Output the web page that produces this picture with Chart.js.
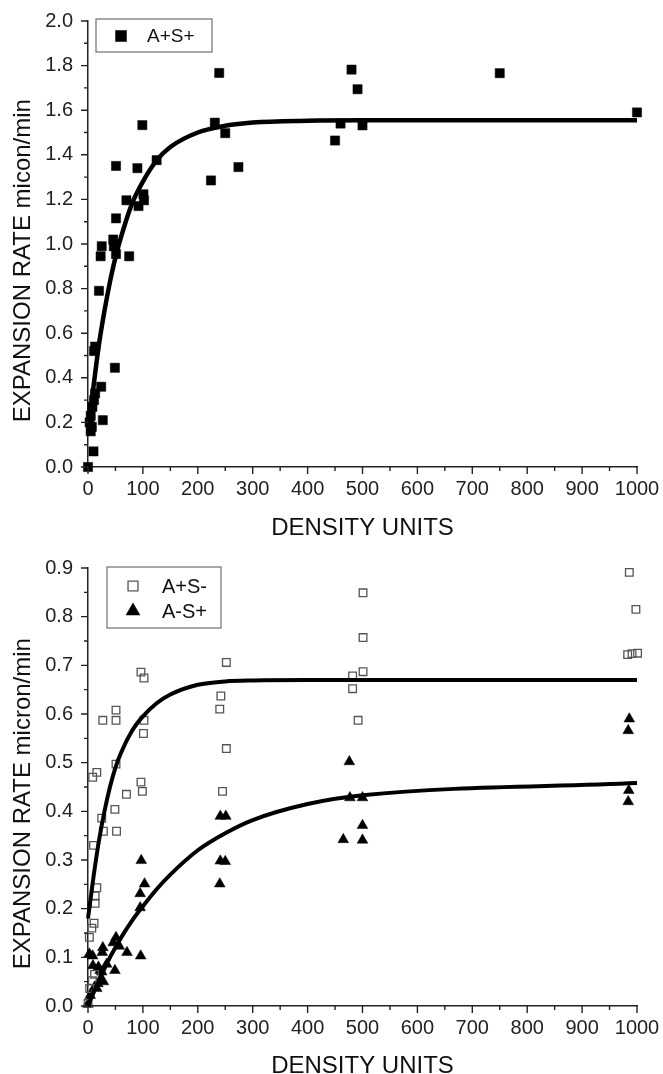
<!DOCTYPE html>
<html>
<head>
<meta charset="utf-8">
<title>Expansion rate vs density</title>
<script src="https://cdn.jsdelivr.net/npm/chart.js@4.4.1/dist/chart.umd.min.js"></script>
<style>
  html, body { margin: 0; padding: 0; background: #fff; }
  .panel { position: absolute; left: 0; width: 663px; }
  #topPanel { top: 0; height: 548px; }
  #bottomPanel { top: 548px; height: 526px; }
</style>
</head>
<body>
<div class="panel" id="topPanel"><canvas id="chartTop"></canvas></div>
<div class="panel" id="bottomPanel"><canvas id="chartBottom"></canvas></div>
<script>
// ---- top panel: A+S+ ----
const aspX = [0, 3, 5, 7, 8, 11, 13, 5, 10, 11, 13, 24, 27, 20, 23, 25,
  46, 47, 51, 51, 51, 49, 75, 70, 90, 92, 99, 101, 102, 125,
  224, 231, 239, 250, 274, 450, 460, 480, 491, 500, 750, 1000];
const aspY = [0.0, 0.2, 0.23, 0.18, 0.27, 0.3, 0.33, 0.16, 0.07, 0.52, 0.54, 0.36, 0.21, 0.79, 0.945, 0.99,
  1.02, 0.99, 0.955, 1.115, 1.35, 0.445, 0.945, 1.196, 1.34, 1.17, 1.533, 1.223, 1.196, 1.376,
  1.285, 1.544, 1.767, 1.497, 1.345, 1.464, 1.54, 1.782, 1.694, 1.532, 1.766, 1.59];

// fitted curve
const fitX = [0, 10, 20, 30, 40, 50, 60, 80, 100, 125, 150, 200, 250, 300, 400, 500, 1000];
const fitTopY = [0.15, 0.36, 0.55, 0.70, 0.83, 0.94, 1.03, 1.18, 1.28, 1.375, 1.435, 1.50, 1.53, 1.545, 1.553, 1.555, 1.555];

// ---- bottom panel: A+S- (open squares) and A-S+ (triangles) ----
const apsmX = [0, 3, 8, 12, 2.5, 7, 11, 13, 13, 16, 10, 25, 28, 52, 49, 70, 8.5, 16, 51,
  27, 51, 51, 96.5, 102, 102, 101, 96.5, 99, 240, 242, 245, 252, 252,
  482, 482, 492, 501, 501, 501, 983, 986, 991, 998, 1001];
const apsmY = [0.005, 0.036, 0.052, 0.065, 0.141, 0.16, 0.17, 0.211, 0.226, 0.243, 0.33, 0.386, 0.359, 0.359, 0.404, 0.435, 0.47, 0.48, 0.497,
  0.587, 0.587, 0.608, 0.686, 0.674, 0.587, 0.56, 0.46, 0.441, 0.61, 0.637, 0.441, 0.706, 0.529,
  0.678, 0.652, 0.587, 0.849, 0.757, 0.687, 0.722, 0.891, 0.724, 0.815, 0.725];

const amspX = [0, 4, 12, 16, 18, 28, 9, 19, 22, 25, 34, 2.5, 8.5, 27, 26, 46, 51, 57, 49, 71,
  96, 95, 95, 103, 97, 240, 241, 250, 241, 251,
  465, 476, 477, 500, 500, 500, 984, 985, 984, 986];
const amspY = [0.004, 0.022, 0.039, 0.036, 0.046, 0.05, 0.083, 0.08, 0.073, 0.07, 0.086, 0.107, 0.103, 0.12, 0.11, 0.13, 0.141, 0.123, 0.073, 0.11,
  0.103, 0.202, 0.231, 0.251, 0.299, 0.251, 0.298, 0.297, 0.39, 0.39,
  0.342, 0.502, 0.428, 0.428, 0.371, 0.341, 0.42, 0.443, 0.566, 0.59];

const fitApsmY = [0.18, 0.265, 0.34, 0.40, 0.45, 0.49, 0.52, 0.565, 0.595, 0.622, 0.64, 0.66, 0.667, 0.669, 0.67, 0.67, 0.67];
const fitAmspY = [0, 0.027, 0.052, 0.077, 0.10, 0.12, 0.14, 0.175, 0.205, 0.24, 0.27, 0.32, 0.355, 0.382, 0.415, 0.433, 0.458];

const FONT = "'Liberation Sans', Arial, Helvetica, sans-serif";
const pts = (xs, ys) => xs.map((x, i) => ({ x: x, y: ys[i] }));

// outward tick marks, long for labelled ticks, short for the rest
const tickMarks = {
  id: 'tickMarks',
  afterDraw(chart) {
    const ctx = chart.ctx;
    const xs = chart.scales.x, ys = chart.scales.y;
    ctx.save();
    ctx.strokeStyle = '#222';
    ctx.lineWidth = 1.4;
    ctx.beginPath();
    xs.ticks.forEach((t, i) => {
      const p = xs.getPixelForTick(i);
      const len = t.label === '' ? 4 : 7;
      ctx.moveTo(p, xs.top);
      ctx.lineTo(p, xs.top + len);
    });
    ys.ticks.forEach((t, i) => {
      const p = ys.getPixelForTick(i);
      const len = t.label === '' ? 4 : 7;
      ctx.moveTo(ys.right, p);
      ctx.lineTo(ys.right - len, p);
    });
    ctx.stroke();
    ctx.restore();
  }
};

function drawMarker(ctx, style, cx, cy, r, fill, stroke, bw) {
  ctx.beginPath();
  if (style === 'triangle') {
    ctx.moveTo(cx, cy - r);
    ctx.lineTo(cx + r * Math.sin(Math.PI / 3), cy + r / 2);
    ctx.lineTo(cx - r * Math.sin(Math.PI / 3), cy + r / 2);
    ctx.closePath();
  } else {
    const s = r * Math.SQRT1_2;
    ctx.rect(cx - s, cy - s, 2 * s, 2 * s);
  }
  ctx.fillStyle = fill;
  ctx.fill();
  ctx.lineWidth = bw;
  ctx.strokeStyle = stroke;
  ctx.stroke();
}

// framed legend inside the plot, top-left
const boxLegend = {
  id: 'boxLegend',
  afterDraw(chart, args, o) {
    const ctx = chart.ctx;
    const x0 = chart.chartArea.left + o.dx;
    const y0 = chart.chartArea.top + o.dy;
    ctx.save();
    ctx.fillStyle = '#fff';
    ctx.fillRect(x0, y0, o.w, o.h);
    ctx.strokeStyle = '#7a7a7a';
    ctx.lineWidth = 1.3;
    ctx.strokeRect(x0, y0, o.w, o.h);
    const items = chart.data.datasets.filter(d => !d.showLine);
    items.forEach((d, i) => {
      const cy = y0 + o.firstRow + i * o.rowGap;
      drawMarker(ctx, d.pointStyle, x0 + o.markerX, cy, d.pointRadius * o.markerScale,
        d.backgroundColor, d.borderColor, d.borderWidth);
      ctx.font = o.fontSize + 'px ' + FONT;
      ctx.fillStyle = '#111';
      ctx.textBaseline = 'middle';
      ctx.textAlign = 'left';
      ctx.fillText(d.label, x0 + o.textX, cy + 1);
    });
    ctx.restore();
  }
};

function isMultiple(v, every) {
  const q = v / every;
  return Math.abs(q - Math.round(q)) < 1e-6;
}

function makeScales(c) {
  return {
    x: {
      type: 'linear', min: 0, max: 1000,
      border: { display: true, color: '#222', width: 1.5 },
      grid: { drawOnChartArea: false, drawTicks: true, tickLength: 7, tickColor: 'rgba(0,0,0,0)' },
      ticks: {
        stepSize: 50, autoSkip: false, maxRotation: 0, padding: 3,
        color: '#222', font: { family: FONT, size: 20 },
        callback: v => (isMultiple(v, 100) ? String(v) : '')
      },
      title: {
        display: true, text: 'DENSITY UNITS', color: '#111',
        font: { family: FONT, size: 24, lineHeight: 1 },
        padding: { top: 0, bottom: c.xTitlePad }
      },
      afterFit: s => { s.height = c.xHeight; }
    },
    y: {
      type: 'linear', min: 0, max: c.yMax,
      border: { display: true, color: '#222', width: 1.5 },
      grid: { drawOnChartArea: false, drawTicks: true, tickLength: 7, tickColor: 'rgba(0,0,0,0)' },
      ticks: {
        stepSize: c.yStep, autoSkip: false, padding: 8,
        color: '#222', font: { family: FONT, size: 20 },
        callback: v => (isMultiple(v, c.yLabelEvery) ? v.toFixed(1) : '')
      },
      title: {
        // trailing spaces push the rotated title a little below the axis centre, as in the original
        display: true, text: c.yTitle + '     ', color: '#111',
        font: { family: FONT, size: 24, lineHeight: 1 },
        padding: { top: 11, bottom: 0 }
      },
      afterFit: s => { s.width = 88; }
    }
  };
}

function fitLine(ys, width) {
  return {
    label: 'fit', data: pts(fitX, ys), showLine: true,
    borderColor: '#000', borderWidth: width, pointRadius: 0,
    cubicInterpolationMode: 'monotone', fill: false, clip: false
  };
}

new Chart(document.getElementById('chartTop'), {
  type: 'scatter',
  data: {
    datasets: [
      fitLine(fitTopY, 4.5),
      {
        label: 'A+S+', data: pts(aspX, aspY), pointStyle: 'rect', pointRadius: 6.5,
        backgroundColor: '#000', borderColor: '#000', borderWidth: 0.5, clip: false
      }
    ]
  },
  options: {
    responsive: true, maintainAspectRatio: false, animation: false,
    layout: { padding: { left: 0, right: 26, top: 21, bottom: 0 } },
    scales: makeScales({ yMax: 2.0, yStep: 0.1, yLabelEvery: 0.2, yTitle: 'EXPANSION RATE micon/min', xHeight: 81, xTitlePad: 8 }),
    plugins: {
      legend: { display: false },
      tooltip: { enabled: false },
      boxLegend: { dx: 8, dy: -2, w: 116, h: 33, markerX: 25, textX: 51, firstRow: 17, rowGap: 25, markerScale: 1.2, fontSize: 19 }
    }
  },
  plugins: [tickMarks, boxLegend]
});

new Chart(document.getElementById('chartBottom'), {
  type: 'scatter',
  data: {
    datasets: [
      fitLine(fitApsmY, 4),
      fitLine(fitAmspY, 4),
      {
        label: 'A+S-', data: pts(apsmX, apsmY), pointStyle: 'rect', pointRadius: 5.4,
        backgroundColor: 'rgba(255,255,255,0)', borderColor: '#555', borderWidth: 1.3, clip: false
      },
      {
        label: 'A-S+', data: pts(amspX, amspY), pointStyle: 'triangle', pointRadius: 6.2,
        backgroundColor: '#000', borderColor: '#000', borderWidth: 0.5, clip: false
      }
    ]
  },
  options: {
    responsive: true, maintainAspectRatio: false, animation: false,
    layout: { padding: { left: 0, right: 26, top: 13, bottom: 0 } },
    scales: makeScales({ yMax: 0.9, yStep: 0.05, yLabelEvery: 0.1, yTitle: 'EXPANSION RATE micron/min', xHeight: 68, xTitlePad: -4 }),
    plugins: {
      legend: { display: false },
      tooltip: { enabled: false },
      boxLegend: { dx: 19, dy: -1, w: 114, h: 61, markerX: 26, textX: 55, firstRow: 19, rowGap: 25, markerScale: 1.3, fontSize: 20 }
    }
  },
  plugins: [tickMarks, boxLegend]
});
</script>
</body>
</html>
